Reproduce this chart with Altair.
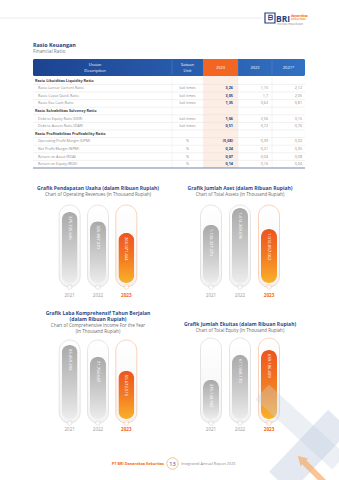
import altair as alt
import pandas as pd

W, H = 339, 480
FONT = "Open Sans"
NAVY = "#27407e"
ORANGE = "#f26522"

# ---------------- data ----------------
row_labels = [
    "Rasio Likuiditas  Liquidity Ratio",
    "Rasio Lancar  Current Ratio",
    "Rasio Cepat  Quick Ratio",
    "Rasio Kas  Cash Ratio",
    "Rasio Solvabilitas  Solvency Ratio",
    "Debt to Equity Ratio (DER)",
    "Debt to Assets Ratio (DAR)",
    "Rasio Profitabilitas  Profitability Ratio",
    "Operating Profit Margin (OPM)",
    "Net Profit Margin (NPM)",
    "Return on Asset (ROA)",
    "Return on Equity (ROE)",
]
row_kind = ["section", "item", "item", "item", "section", "item", "item",
            "section", "item", "item", "item", "item"]
units = ["", "kali times", "kali times", "kali times", "", "kali times", "kali times",
         "", "%", "%", "%", "%"]
v2023 = ["", "3,26", "3,05", "1,35", "", "1,06", "0,51", "", "(5,08)", "0,24", "0,07", "0,14"]
v2022 = ["", "1,15", "1,7", "0,62", "", "2,56", "0,72", "", "0,39", "0,21", "0,04", "0,16"]
v2021 = ["", "2,12", "2,05", "0,81", "", "3,15", "0,76", "", "0,32", "0,35", "0,08", "0,34"]

years = ["2021", "2022", "2023"]
revenues = [375725646, 326887070, 265071444]
assets = [1100327270, 1414369695, 1016857062]
income = [85459290, 71754687, 55672515]
equity = [375130992, 611948170, 659186459]


def fmt(v):
    return f"{v:,}".replace(",", ".")


layers = []


def pix(field):
    return alt.X(field, scale=None)


def piy(field):
    return alt.Y(field, scale=None)


def text_layer(rows, align="left", weight="normal", baseline="middle"):
    df = pd.DataFrame(rows, columns=["x", "y", "text", "size", "color"])
    return alt.Chart(df).mark_text(
        align=align, baseline=baseline, font=FONT, fontWeight=weight
    ).encode(
        x=pix("x:Q"), y=piy("y:Q"), text="text:N",
        size=alt.Size("size:Q", scale=None, legend=None),
        color=alt.Color("color:N", scale=None, legend=None),
    )


def rule_layer(rows, color, width, opacity=1.0):
    df = pd.DataFrame(rows, columns=["x", "x2", "y", "y2"])
    return alt.Chart(df).mark_rule(color=color, strokeWidth=width, opacity=opacity).encode(
        x=pix("x:Q"), x2="x2:Q", y=piy("y:Q"), y2="y2:Q")


def rect_layer(rows, color, **kw):
    df = pd.DataFrame(rows, columns=["x", "x2", "y", "y2"])
    return alt.Chart(df).mark_rect(color=color, **kw).encode(
        x=pix("x:Q"), x2="x2:Q", y=piy("y:Q"), y2="y2:Q")


# ---------------- header / logo ----------------
layers.append(rule_layer([[0, 262, 18, 18]], "#d9dde4", 0.6))
layers.append(rect_layer([[265, 275, 13, 23]], "white", stroke=NAVY, strokeWidth=1.2))
layers.append(text_layer([[270, 18.3, "ᗷ", 7, NAVY]], align="center", weight="bold"))
layers.append(text_layer([[276, 18.5, "BRI", 8.5, NAVY]], align="left", weight="bold"))
layers.append(text_layer([[291, 15.8, "danareksa", 3.2, ORANGE],
                          [291, 19.2, "sekuritas", 3.2, "#f59a5e"]], weight="bold"))
layers.append(text_layer([[277, 24, "investasi masa depan", 2.6, "#8a8a8a"]]))

layers.append(text_layer([[33, 44.5, "Rasio Keuangan", 5.4, NAVY]], weight="bold"))
layers.append(text_layer([[33, 51.5, "Financial Ratio", 4.8, "#7a7a7a"]]))

# ---------------- table ----------------
TX0, TX1 = 33, 305
C_UNIT, C23, C22, C21 = 172, 203, 238, 272
HY0, HY1 = 59, 76
ROW0, STEP = 80.6, 7.6
row_y = [ROW0 + i * STEP for i in range(len(row_labels))]
TB = row_y[-1] + 3.8

layers.append(rect_layer([[C23, C22, HY1, TB]], "#fdeee5"))
layers.append(rect_layer([[TX0, TX1, HY0, HY1]], alt.Gradient(
    gradient="linear", x1=0, y1=0, x2=1, y2=0,
    stops=[alt.GradientStop(offset=0, color="#1c4390"),
           alt.GradientStop(offset=1, color="#3270c2")]), cornerRadius=1.5))
layers.append(rect_layer([[C23, C22, HY0, HY1]], ORANGE))
layers.append(rule_layer([[c, c, HY0 + 1, HY1 - 1] for c in [C_UNIT, C22, C21]], "#6d8fcf", 0.4))

hdr = [
    [95, 64.5, "Uraian", 4.0, "white"], [95, 70.5, "Description", 4.0, "white"],
    [187.5, 64.5, "Satuan", 4.0, "white"], [187.5, 70.5, "Unit", 4.0, "white"],
    [220.5, 67.5, "2023", 4.0, "white"], [255, 67.5, "2022", 4.0, "white"],
    [288.5, 67.5, "2021*", 4.0, "white"],
]
layers.append(text_layer(hdr, align="center"))

seps = [[TX0, TX1, y + 3.8, y + 3.8] for y in row_y[:-1]]
layers.append(rule_layer(seps, "#dcdcdc", 0.4))
vlines = [[c, c, HY1, TB] for c in [C_UNIT, C22, C21]]
layers.append(rule_layer(vlines, "#e2e2e2", 0.4))
layers.append(rule_layer([[TX0, TX1, TB, TB]], "#3b4f86", 0.7))

sec_rows, item_rows, unit_rows, r23, r22, r21 = [], [], [], [], [], []
for i, (lab, kind) in enumerate(zip(row_labels, row_kind)):
    y = row_y[i]
    if kind == "section":
        sec_rows.append([35, y, lab, 3.8, "#3d3d3d"])
    else:
        item_rows.append([38, y, lab, 3.7, "#8a8a8a"])
        unit_rows.append([187.5, y, units[i], 3.6, "#8a8a8a"])
        r23.append([C22 - 5, y, v2023[i], 3.8, NAVY])
        r22.append([C21 - 4, y, v2022[i], 3.7, "#8a8a8a"])
        r21.append([TX1 - 3, y, v2021[i], 3.7, "#8a8a8a"])
layers.append(text_layer(sec_rows, weight="bold"))
layers.append(text_layer(item_rows))
layers.append(text_layer(unit_rows, align="center"))
layers.append(text_layer(r23, align="right", weight="bold"))
layers.append(text_layer(r22, align="right"))
layers.append(text_layer(r21, align="right"))

# ---------------- bar panels ----------------
GREY_G = alt.Gradient(gradient="linear", x1=0, y1=0, x2=0, y2=1, stops=[
    alt.GradientStop(offset=0, color="#a9a9a9"),
    alt.GradientStop(offset=0.6, color="#cfcfcf"),
    alt.GradientStop(offset=1, color="#ececec")])
ORANGE_G = alt.Gradient(gradient="linear", x1=0, y1=0, x2=0, y2=1, stops=[
    alt.GradientStop(offset=0, color="#ee5420"),
    alt.GradientStop(offset=0.5, color="#f37a22"),
    alt.GradientStop(offset=1, color="#f9b12a")])
BOX_G = alt.Gradient(gradient="linear", x1=0, y1=0, x2=0, y2=1, stops=[
    alt.GradientStop(offset=0, color="#ffffff"),
    alt.GradientStop(offset=1, color="#f3f3f3")])


def panel(values, xr, zero_px, top_px, box_top, box_bot, year_y, titles):
    df = pd.DataFrame({"year": years, "value": values,
                       "label": [fmt(v) for v in values]})
    xs = alt.X("year:N", scale=alt.Scale(domain=years, range=xr,
                                         paddingInner=0, paddingOuter=0), axis=None)
    ys = alt.Y("value:Q", scale=alt.Scale(domain=[0, max(values)],
                                          range=[zero_px, top_px], nice=False), axis=None)
    base = alt.Chart(df)
    hl = "datum.year=='2023'"
    out = []
    out.append(base.mark_bar(width=21, cornerRadius=10.5, color=BOX_G, strokeWidth=0.6).encode(
        x=xs, y=alt.value(box_top), y2=alt.value(box_bot),
        stroke=alt.condition(hl, alt.value("#f6b690"), alt.value("#d4d4d4"))))
    out.append(base.transform_filter("datum.year!='2023'").mark_bar(
        width=16, cornerRadius=8, color=GREY_G).encode(x=xs, y=ys))
    out.append(base.transform_filter(hl).mark_bar(
        width=16, cornerRadius=8, color=ORANGE_G).encode(x=xs, y=ys))
    out.append(base.mark_text(angle=90, align="left", baseline="middle", dx=4,
                              fontSize=4.2, font=FONT, color="white").encode(
        x=xs, y=ys, text="label:N"))
    out.append(base.mark_point(shape="circle", filled=True, size=22, strokeWidth=0.6).encode(
        x=xs, y=alt.value(box_bot), fill=alt.value("white"),
        stroke=alt.condition(hl, alt.value("#f6b690"), alt.value("#c8c8c8"))))
    out.append(base.transform_filter("datum.year!='2023'").mark_text(
        fontSize=4.5, font=FONT, color="#9a9a9a").encode(
        x=xs, y=alt.value(year_y), text="year:N"))
    out.append(base.transform_filter(hl).mark_text(
        fontSize=4.6, font=FONT, fontWeight="bold", color=ORANGE).encode(
        x=xs, y=alt.value(year_y), text="year:N"))
    cx = (xr[0] + xr[1]) / 2
    bold_rows = [[cx, y, t, 5.0, "#2d4a8a"] for (t, y, b) in titles if b]
    reg_rows = [[cx, y, t, 4.5, "#6a6a6a"] for (t, y, b) in titles if not b]
    if bold_rows:
        out.append(text_layer(bold_rows, align="center", weight="bold"))
    if reg_rows:
        out.append(text_layer(reg_rows, align="center"))
    return out


L_RANGE = [55.5, 140.5]
R_RANGE = [196.5, 283.5]

layers += panel(revenues, L_RANGE, 283, 212, 205, 287, 296, [
    ("Grafik Pendapatan Usaha (dalam Ribuan Rupiah)", 188, True),
    ("Chart of Operating Revenues (in Thousand Rupiah)", 195, False)])
layers += panel(assets, R_RANGE, 283, 208, 205, 287, 296, [
    ("Grafik Jumlah Aset (dalam Ribuan Rupiah)", 188, True),
    ("Chart of Total Assets (in Thousand Rupiah)", 195, False)])
layers += panel(income, L_RANGE, 419, 345, 340, 423, 430, [
    ("Grafik Laba Komprehensif Tahun Berjalan", 312.5, True),
    ("(dalam Ribuan Rupiah)", 319, True),
    ("Chart of Comprehensive Income For the Year", 325.5, False),
    ("(In Thousand Rupiah)", 331.5, False)])
layers += panel(equity, R_RANGE, 419, 350, 338, 423, 430, [
    ("Grafik Jumlah Ekuitas (dalam Ribuan Rupiah)", 324, True),
    ("Chart of Total Equity (In Thousand Rupiah)", 330.5, False)])

# ---------------- background decorations (translucent, bottom right) ----------------
layers.append(rule_layer([[262, 339, 392, 462]], "#c9d3e2", 20, opacity=0.35))
layers.append(rule_layer([[280, 339, 482, 420]], "#c2cde0", 30, opacity=0.45))
layers.append(rule_layer([[324, 304, 482, 462]], "#f7ad6a", 6, opacity=0.7))
layers.append(alt.Chart(pd.DataFrame({"x": [301], "y": [459]})).mark_point(
    shape="triangle-up", filled=True, color="#f7ad6a", size=110, angle=315, opacity=0.7).encode(
    x=pix("x:Q"), y=piy("y:Q")))

# ---------------- footer ----------------
layers.append(text_layer([[164, 463.5, "PT BRI Danareksa Sekuritas", 3.8, ORANGE]],
                         align="right", weight="bold"))
layers.append(alt.Chart(pd.DataFrame({"x": [172.5], "y": [463.5]})).mark_point(
    shape="circle", filled=False, size=130, color="#f4a46e", strokeWidth=0.7, opacity=1).encode(
    x=pix("x:Q"), y=piy("y:Q")))
layers.append(text_layer([[172.5, 463.8, "13", 5.5, NAVY]], align="center"))
layers.append(text_layer([[181, 463.5, "Integrated Annual Report 2023", 3.8, "#8a8a8a"]]))

chart = alt.layer(*layers).resolve_scale(
    x="independent", y="independent"
).properties(
    width=W, height=H, padding=0, autosize=alt.AutoSizeParams(type="none"),
    background="white"
).configure_view(strokeWidth=0)

chart.save("out.html", embed_options={"renderer": "svg", "actions": False})
